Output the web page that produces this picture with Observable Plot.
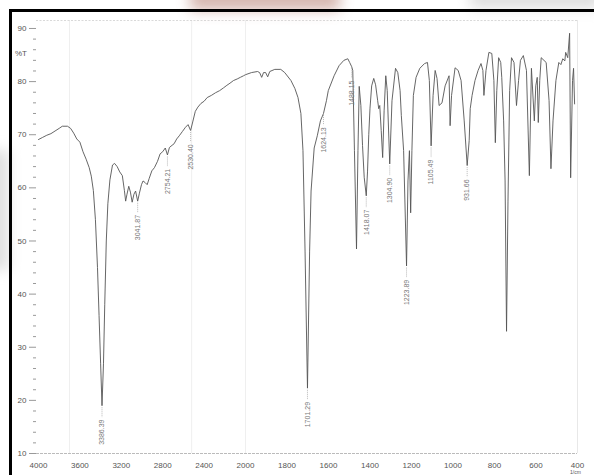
<!DOCTYPE html>
<html><head><meta charset="utf-8">
<script src="https://cdn.jsdelivr.net/npm/d3@7"></script>
<script src="https://cdn.jsdelivr.net/npm/@observablehq/plot@0.6"></script>
<style>
html,body{margin:0;padding:0;background:#fff;width:594px;height:475px;overflow:hidden;}
#wrap{position:relative;width:594px;height:475px;overflow:hidden;}
#frame{position:absolute;left:9px;top:9px;width:620px;height:500px;border-left:3px solid #000;border-top:3px solid #000;box-sizing:border-box;}
#chart{position:absolute;left:0;top:0;}
.wm{position:absolute;filter:blur(7px);}
.lab{position:absolute;font-family:"Liberation Sans Narrow","Liberation Sans",Arial,sans-serif;color:#555;line-height:1;}
</style></head>
<body>
<div id="wrap">
  <div class="wm" style="left:190px;top:-12px;width:150px;height:22px;background:#c79c92;opacity:.75"></div>
  <div class="wm" style="left:470px;top:-12px;width:130px;height:20px;background:#bbb;opacity:.5"></div>
  <div class="wm" style="left:-10px;top:150px;width:18px;height:120px;background:#bbb;opacity:.5"></div>
  <div id="chart"></div>
  <div class="lab" style="left:15px;top:50px;font-size:8px;">%T</div>
  <div class="lab" style="left:570px;top:470px;font-size:5px;">1/cm</div>
  <div id="frame"></div>
</div>
<script>
// ---- data ----
const wavenumber = [
  4000,3960,3920,3880,3840,3800,3770,3720,3690,3660,3630,3600,3570,3540,3510,3490,3470,3450,3430,3415,3400,3386.39,3372,3360,3345,3330,3310,3285,3265,3240,3215,3190,3170,3158,3145,3128,3112,3095,3078,3062,3041.87,3025,3005,2990,2970,2950,2930,2905,2880,2850,2825,2800,2775,2754.21,2735,2710,2690,2665,2640,2610,2580,2555,2530.40,2510,2485,2460,2430,2400,2370,2330,2290,2250,2214,2180,2150,2116,2080,2050,2019,
  2000,1971,1942,1932,1922,1913,1903,1893,1883,1859,1830,1811,1781,1762,1747,1733,1723,1713,1701.29,1691,1684,1669,1654,1639,1624.13,1610,1601,1573,1549,1526,1507,1498,1488.15,1483,1475,1465,1458,1452,1444,1436,1428,1418.07,1412,1406,1400,1392,1382,1373,1363,1358,1353,1346,1339,1332,1324,1317,1304.90,1294,1277,1266,1255,1249,1238,1223.89,1217,1210,1204,1198,1191,1178,1160,1137,1123,1114,1105.49,1096,1086,1077,1067,1053,1038,1019,1014,1007,990,975,961,946,931.66,922,917,908,894,879,865,856,851,841,827,813,803,796,789,780,770,765,756,749,742,735,727,718,706,694,684,675,661,646,632,622,608,601,594,589,582,575,551,537,528,518,504,490,480,471,461,457,447,438,433,424,419,414
];
const transmittance = [
  69.1,69.5,69.9,70.2,70.7,71.2,71.6,71.6,71.2,70.3,69.2,68.6,66.8,65.4,63.8,62.2,59.5,54,45,36,27,19.0,27,38,50,57,61.5,64.3,64.6,64.0,63.0,62.3,59.5,57.5,58.8,60.3,59.2,57.3,58.8,59.4,57.5,59.0,60.6,61.3,61.0,60.6,61.8,63.2,63.8,65.0,66.4,66.8,67.5,66.2,67.6,68.0,68.3,69.2,69.8,70.6,71.4,71.9,70.8,72.4,74.4,75.2,75.9,76.3,77.0,77.4,77.9,78.3,78.8,79.3,79.7,80.2,80.5,80.8,81.1,
  81.3,81.7,81.9,81.7,80.8,81.7,81.7,80.9,81.9,82.3,82.3,81.7,80.2,78.7,77.0,74.0,67.0,48.1,22.3,48.1,59.4,67.5,69.8,72.6,74.0,76.4,78.3,81.1,83.0,84.0,84.3,83.6,82.8,82.1,67.0,48.5,67.0,79.1,75.5,68.0,62.0,58.5,63.0,70.0,75.0,79.2,80.6,79.4,76.4,74.9,75.5,70.8,65.7,74.5,81.1,78.3,64.5,76.4,82.5,81.7,78.3,73.6,67.0,45.3,61.3,67.0,55.3,67.0,77.4,80.8,82.5,83.4,83.6,80.2,67.9,77.4,82.1,80.6,75.5,76.0,79.2,81.1,71.7,77.4,82.6,82.1,80.2,72.6,64.2,68.9,74.9,77.4,80.2,82.1,83.4,82.1,77.4,82.1,85.5,85.3,80.2,68.5,78.3,84.5,83.6,80.8,72.6,61.3,33.0,57.5,78.3,84.5,83.6,75.5,80.2,84.0,84.9,82.1,62.3,82.5,72.6,79.2,80.8,72.3,80.2,84.5,83.6,76.4,63.6,72.6,80.2,83.6,83.2,84.3,83.9,85.5,84.5,89.1,61.9,80.2,82.5,75.8
];
const peakWavenumber = [3386.39,3041.87,2754.21,2530.40,1701.29,1624.13,1488.15,1418.07,1304.90,1223.89,1105.49,931.66];
const peakTransmittance = [19.0,57.5,66.2,70.8,22.3,74.0,82.8,58.5,64.5,45.3,67.9,64.2];
const peakLabels = ["3386.39","3041.87","2754.21","2530.40","1701.29","1624.13","1488.15","1418.07","1304.90","1223.89","1105.49","931.66"];
const xTicks = [4000,3600,3200,2800,2400,2000,1800,1600,1400,1200,1000,800,600,400];
const yTicks = [10,20,30,40,50,60,70,80,90];
const yMinorTicks = [12,14,16,18,22,24,26,28,32,34,36,38,42,44,46,48,52,54,56,58,62,64,66,68,72,74,76,78,82,84,86,88];
const xBreaks = [4000, 2000, 400];   // scale expands 2x below 2000 1/cm
const yDomain = [10, 91.5];
const foldLines = [3700, 2520, 2000];

const spectrum = wavenumber.map((w, i) => ({wn: w, T: transmittance[i]}));
const peaks = peakWavenumber.map((w, i) => ({wn: w, T: peakTransmittance[i], label: peakLabels[i]}));

// piecewise axis: 2000 1/cm per 207 units above 2000, 1600 per 332 units below
const expand = d3.scaleLinear().domain(xBreaks).range([0, 207, 539]);

const font = '"Liberation Sans Narrow","Liberation Sans",Arial,sans-serif';

const marks = [
  Plot.ruleX(foldLines, {x: d => d, stroke: "#efefef", strokeWidth: 1}),
  Plot.ruleY([yDomain[1]], {stroke: "#cfcfcf", strokeDasharray: "2,1.5", strokeWidth: 0.8}),
  Plot.ruleX([xBreaks[2]], {x: d => d, stroke: "#e2e2e2", strokeWidth: 0.8}),
  Plot.ruleY([yDomain[0]], {stroke: "#aaa", strokeDasharray: "3,1", strokeWidth: 0.8}),
  Plot.line(spectrum, {x: "wn", y: "T", stroke: "#555", strokeWidth: 0.9}),
  Plot.ruleX(peaks, {x: "wn", y1: d => d.T - 0.4, y2: d => d.T - 2.3, stroke: "#999", strokeWidth: 0.7, strokeDasharray: "1,1"}),
  Plot.text(peaks, {x: "wn", y: d => d.T - 2.6, text: "label", rotate: -90, textAnchor: "end", fontSize: 7, fill: "#777", fontFamily: font})
];
if (typeof Plot.axisY === "function") {
  marks.push(
    Plot.axisY({ticks: yMinorTicks, tickSize: 3, tickFormat: () => "", stroke: "#999"}),
    Plot.axisY({ticks: yTicks, tickSize: 7, tickPadding: 3, stroke: "#999", fill: "#555", fontSize: 8, label: null}),
    Plot.axisX({ticks: xTicks.map(expand), tickSize: 0, tickPadding: 9, tickFormat: d => String(Math.round(expand.invert(d))), fill: "#555", fontSize: 8, label: null})
  );
}

const chart = Plot.plot({
  width: 594, height: 475,
  marginTop: 20, marginBottom: 22, marginLeft: 36, marginRight: 17,
  style: {background: "transparent", fontFamily: font, fontSize: "8px", color: "#555"},
  x: {type: "linear", transform: expand, domain: [0, 539], range: [38, 577],
      ticks: xTicks.map(expand), tickFormat: d => String(Math.round(expand.invert(d))), tickSize: 0, tickPadding: 9, label: null},
  y: {domain: yDomain, ticks: yTicks, tickSize: 7, tickPadding: 3, label: null},
  marks
});
document.getElementById("chart").appendChild(chart);
</script>
</body></html>
